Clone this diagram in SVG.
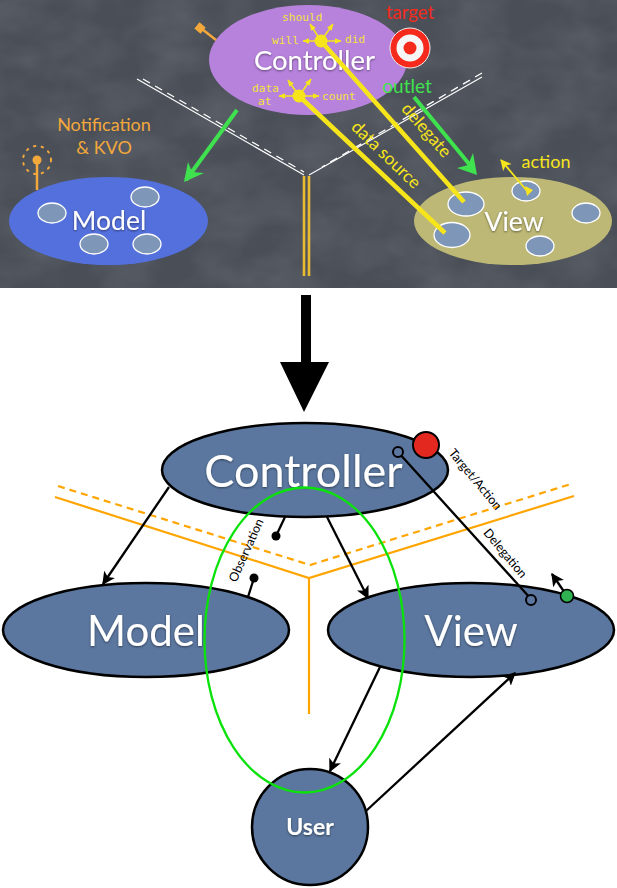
<svg xmlns="http://www.w3.org/2000/svg" width="617" height="888" viewBox="0 0 617 888">
<defs>
<style>
.top{font-family:"Lato","Liberation Sans",sans-serif}
.mono{font-family:"DejaVu Sans Mono","Liberation Mono",monospace;font-size:11.200px;fill:#f2e23c}
.gill{font-family:"Lato","Liberation Sans",sans-serif;fill:#fff;text-anchor:middle}
.node{fill:#5b779f;stroke:#000;stroke-width:2.500}
.sub{fill:#7e97b8;stroke:#fff;stroke-width:1.300}
.orange{fill:none;stroke:#ffa500;stroke-width:2.200}
.k{fill:none;stroke:#000;stroke-width:2.300}
.lbl{font-family:"Lato","Liberation Sans",sans-serif;font-size:12.500px;fill:#000;text-anchor:middle}
.y{stroke:#f6e51b;stroke-width:4.500;fill:none}
.ys{stroke:#f6e51b;stroke-width:1.500;fill:none}
</style>
<marker id="ahb" viewBox="0 0 10 10" refX="9" refY="5" markerWidth="13" markerHeight="13" orient="auto" markerUnits="userSpaceOnUse"><path d="M0 0L10 5L0 10L2.500 5Z" fill="#000"/></marker>
<marker id="ys" viewBox="0 0 10 10" refX="9" refY="5" markerWidth="7" markerHeight="7" orient="auto" markerUnits="userSpaceOnUse"><path d="M0 1L10 5L0 9Z" fill="#f6e51b"/></marker>
<marker id="ya" viewBox="0 0 10 10" refX="9" refY="5" markerWidth="11" markerHeight="11" orient="auto" markerUnits="userSpaceOnUse"><path d="M0 0L10 5L0 10L2.500 5Z" fill="#f6e51b"/></marker>
<filter id="sh" x="-10%" y="-10%" width="120%" height="130%"><feDropShadow dx="0" dy="1" stdDeviation="1" flood-color="#000" flood-opacity=".5"/></filter>
<filter id="chalk" x="0" y="0" width="100%" height="100%"><feTurbulence type="fractalNoise" baseFrequency="0.02 0.03" numOctaves="3" seed="4"/><feColorMatrix values="0 0 0 0 1 0 0 0 0 1 0 0 0 0 1 0.16 0 0 0 -0.05"/></filter>
</defs>

<rect id="chalkboard" width="617" height="288" fill="#494e57"/>
<rect id="chalk-texture" width="617" height="288" filter="url(#chalk)"/>

<g id="top-boundary" fill="none">
<path d="M137 79L304 175M482 77L309 175" stroke="#fff" stroke-width="1.100"/>
<path d="M143 79L304 172M482 73L322 167" stroke="#fff" stroke-width="1.300" stroke-dasharray="8 6"/>
<path d="M304 176V276M309 176V276" stroke="#e8bb33" stroke-width="2.600"/>
</g>

<g id="top-controller">
<ellipse cx="308" cy="60" rx="99" ry="55" fill="#b782dc"/>
<path d="M216 40L202 29" stroke="#f3a83c" stroke-width="2.500"/>
<rect x="196" y="24" width="8" height="8" fill="#f3a83c" transform="rotate(40 200 28)"/>
<text class="top" x="314.500" y="70" font-size="27.500" fill="#fff" text-anchor="middle" filter="url(#sh)">Controller</text>
<text class="mono" x="282" y="21">should</text>
<text class="mono" x="272" y="44">will</text>
<text class="mono" x="345" y="43">did</text>
<text class="mono" x="252" y="92">data</text>
<text class="mono" x="258" y="105">at</text>
<text class="mono" x="322" y="100">count</text>
<path class="ys" d="M321 41H303" marker-end="url(#ys)"/>
<path class="ys" d="M321 41H341" marker-end="url(#ys)"/>
<path class="ys" d="M321 41L310 24" marker-end="url(#ys)"/>
<path class="ys" d="M321 41L333 24" marker-end="url(#ys)"/>
<path class="ys" d="M299 96H279" marker-end="url(#ys)"/>
<path class="ys" d="M299 96H319" marker-end="url(#ys)"/>
<path class="ys" d="M299 96L288 80" marker-end="url(#ys)"/>
<path class="ys" d="M299 96L311 79" marker-end="url(#ys)"/>
<circle cx="321" cy="41" r="6.500" fill="#f6e51b"/>
<circle cx="299" cy="96" r="6.500" fill="#f6e51b"/>
</g>

<g id="top-target">
<circle cx="410" cy="48" r="20" fill="#f52a1c" stroke="#eee" stroke-width="1"/>
<circle cx="410" cy="48" r="13.500" fill="#f6f6f6"/>
<circle cx="410" cy="48" r="6.500" fill="#f52a1c"/>
<text class="top" x="410" y="19" font-size="18.500" fill="#f52a1c" text-anchor="middle">target</text>
</g>

<g id="top-model">
<ellipse cx="108.500" cy="221" rx="99.500" ry="44" fill="#5470dc"/>
<ellipse class="sub" cx="52" cy="213" rx="14" ry="10"/>
<ellipse class="sub" cx="145" cy="197" rx="14" ry="10"/>
<ellipse class="sub" cx="94" cy="244" rx="14" ry="10"/>
<ellipse class="sub" cx="147" cy="244" rx="14" ry="10"/>
<text class="top" x="109" y="230" font-size="26.500" fill="#fff" text-anchor="middle" filter="url(#sh)">Model</text>
<path d="M37 190V160" stroke="#f3a83c" stroke-width="2.500"/>
<circle cx="37" cy="160" r="4.500" fill="#f3a83c"/>
<circle cx="37" cy="160" r="14" fill="none" stroke="#f3a83c" stroke-width="2" stroke-dasharray="1.500 6.300" stroke-linecap="round"/>
<text class="top" x="104" y="131" font-size="18" fill="#f3a83c" text-anchor="middle">Notification</text>
<text class="top" x="104" y="154" font-size="18" fill="#f3a83c" text-anchor="middle">&amp; KVO</text>
</g>

<g id="top-view">
<ellipse cx="513" cy="221" rx="99" ry="44" fill="#bdb876"/>
<ellipse class="sub" cx="466" cy="204" rx="18" ry="12"/>
<ellipse class="sub" cx="452" cy="235" rx="18" ry="12.500"/>
<ellipse class="sub" cx="526" cy="191" rx="14" ry="10"/>
<ellipse class="sub" cx="586" cy="213" rx="14" ry="10"/>
<ellipse class="sub" cx="540" cy="246" rx="14" ry="10"/>
<text class="top" x="514" y="231" font-size="26.500" fill="#fff" text-anchor="middle" filter="url(#sh)">View</text>
<path d="M527 191L501 160" stroke="#f6e51b" stroke-width="1.800" marker-end="url(#ya)"/>
<path d="M525 186L533 190L527 196Z" fill="#f6e51b"/>
<text class="top" x="546" y="168" font-size="18" fill="#f6e51b" text-anchor="middle">action</text>
</g>

<g id="top-connectors">
<path d="M321 41L464 202M299 96L445 233" class="y"/>
<path d="M237 110L186 180" stroke="#3fe24e" stroke-width="4" fill="none"/>
<path d="M184 182L188 162L192 172L204 173Z" fill="#3fe24e"/>
<path d="M414 97L474 170" stroke="#3fe24e" stroke-width="4" fill="none"/>
<path d="M477 175L457 168L468 165L473 153Z" fill="#3fe24e"/>
<text class="top" x="407" y="93" font-size="19" fill="#3fe24e" text-anchor="middle">outlet</text>
<text class="top" transform="translate(422 134) rotate(49)" font-size="17.500" fill="#f6e51b" text-anchor="middle">delegate</text>
<text class="top" transform="translate(382 159) rotate(44)" font-size="17.500" fill="#f6e51b" text-anchor="middle">data source</text>
</g>

<path id="big-arrow" d="M301 295H311V362H329L304 412L280 362H301Z" fill="#000"/>

<g id="boundary">
<path class="orange" d="M55 497L309 578L574 496M309 578V714"/>
<path class="orange" stroke-dasharray="7 5" d="M58 486L310 565L571 484"/>
</g>

<g id="controller">
<ellipse class="node" cx="305" cy="470" rx="143" ry="47"/>
<text class="gill" x="303.500" y="487" font-size="45" filter="url(#sh)">Controller</text>
</g>
<g id="model">
<ellipse class="node" cx="146" cy="630" rx="143" ry="47"/>
<text class="gill" x="146" y="646" font-size="42" filter="url(#sh)">Model</text>
</g>
<g id="view">
<ellipse class="node" cx="471" cy="630" rx="143" ry="47"/>
<text class="gill" x="471" y="646" font-size="42" filter="url(#sh)">View</text>
</g>
<g id="user">
<circle class="node" cx="310" cy="827" r="58"/>
<text class="gill" x="310" y="835" font-size="23" font-weight="700" filter="url(#sh)">User</text>
</g>

<g id="connectors">
<ellipse cx="304.500" cy="640" rx="100" ry="152.500" fill="none" stroke="#0be20b" stroke-width="2.300"/>
<path class="k" d="M169 487L103 584" marker-end="url(#ahb)"/>
<path class="k" d="M327 517L368 598" marker-end="url(#ahb)"/>
<path class="k" d="M380 667L330 771" marker-end="url(#ahb)"/>
<path class="k" d="M366 811L515 673" marker-end="url(#ahb)"/>
<path class="k" d="M285 517L276 536"/>
<circle cx="276" cy="536" r="4.500" fill="#000"/>
<path class="k" d="M248 597L254 578"/>
<circle cx="254" cy="578" r="4.500" fill="#000"/>
<path class="k" d="M398 452L531 599"/>
<circle cx="398" cy="452" r="5" fill="#5b779f" stroke="#000" stroke-width="2"/>
<circle cx="531" cy="600" r="5" fill="#5b779f" stroke="#000" stroke-width="2"/>
<path class="k" d="M567 596L552 574" marker-end="url(#ahb)"/>
<circle cx="567" cy="596" r="6.500" fill="#2fb24f" stroke="#000" stroke-width="1.500"/>
<circle cx="426" cy="445" r="13" fill="#e3291f" stroke="#000" stroke-width="2"/>
<text class="lbl" transform="translate(250 552) rotate(-66)">Observation</text>
<text class="lbl" transform="translate(472 482) rotate(50)">Target/Action</text>
<text class="lbl" transform="translate(502 556) rotate(50)">Delegation</text>
</g>
</svg>
